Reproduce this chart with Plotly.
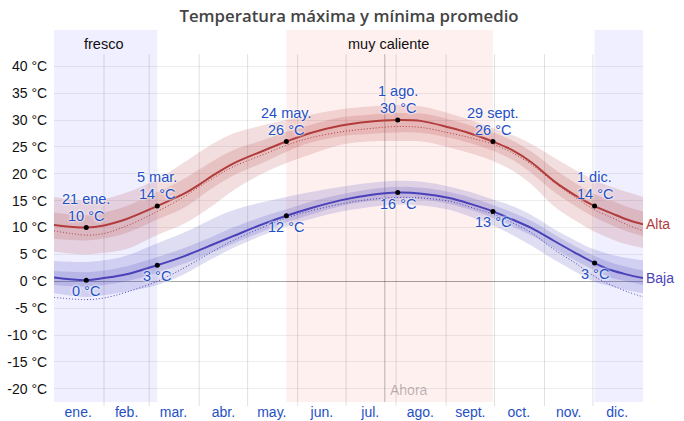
import plotly.graph_objects as go

# sample dates of the daily curves
dates = ['2023-01-01', '2023-01-21', '2023-02-01', '2023-02-15', '2023-03-06', '2023-03-22', '2023-04-01',
         '2023-04-09', '2023-04-22', '2023-05-10', '2023-05-25', '2023-06-09', '2023-06-28', '2023-07-15',
         '2023-08-02', '2023-08-17', '2023-09-03', '2023-09-16', '2023-09-30', '2023-10-12', '2023-10-24',
         '2023-11-07', '2023-11-20', '2023-12-02', '2023-12-13', '2023-12-23', '2024-01-01']

alta_mean = [10.5, 10.0, 10.4, 11.6, 14.0, 16.2, 18.0, 19.6, 21.9, 24.2, 26.0, 27.6, 29.0, 29.7,
             30.0, 29.8, 28.6, 27.5, 26.0, 24.4, 22.1, 18.6, 16.0, 14.0, 12.6, 11.4, 10.6]
alta_norm = [9.4, 8.6, 8.9, 10.3, 13.0, 15.6, 17.6, 19.1, 21.3, 23.5, 25.3, 26.7, 27.8, 28.4,
             28.8, 28.6, 27.6, 26.7, 25.5, 23.9, 21.7, 18.4, 15.6, 13.3, 11.8, 10.4, 9.4]
alta_p90 = [15.7, 15.0, 15.3, 16.5, 19.0, 22.0, 24.0, 25.5, 27.5, 29.0, 30.0, 31.0, 32.0, 32.5,
            32.8, 32.5, 31.2, 30.0, 28.5, 27.2, 25.5, 23.0, 20.7, 18.8, 17.5, 16.5, 15.7]
alta_p75 = [12.8, 12.3, 12.8, 14.0, 16.6, 19.0, 20.8, 22.3, 24.4, 26.2, 27.8, 29.1, 30.5, 31.0,
            31.3, 31.2, 30.1, 29.0, 27.7, 26.2, 24.1, 20.9, 18.3, 16.2, 15.0, 13.8, 13.0]
alta_p25 = [7.9, 7.6, 8.0, 9.0, 11.5, 13.6, 15.6, 17.3, 19.7, 22.0, 24.1, 25.8, 27.0, 27.4,
            27.7, 27.6, 26.7, 25.7, 24.3, 22.6, 20.1, 16.6, 14.0, 11.9, 10.4, 9.2, 8.4]
alta_p10 = [5.5, 5.0, 5.3, 6.0, 8.6, 10.6, 12.4, 14.0, 16.9, 20.0, 22.0, 23.6, 25.4, 26.0,
            26.1, 26.0, 24.9, 23.8, 22.4, 20.6, 18.0, 13.9, 11.3, 9.2, 7.8, 6.8, 6.2]

baja_mean = [0.7, 0.2, 0.6, 1.3, 3.0, 4.6, 5.8, 6.8, 8.4, 10.6, 12.2, 13.6, 15.1, 16.0,
             16.5, 16.3, 15.5, 14.4, 13.0, 11.5, 9.9, 7.5, 5.3, 3.4, 2.0, 1.2, 0.6]
baja_norm = [-3.0, -3.4, -3.1, -2.0, 0.0, 2.4, 4.1, 5.5, 7.6, 10.0, 11.8, 13.1, 14.4, 15.2,
             15.6, 15.5, 14.9, 13.8, 12.5, 10.9, 9.0, 5.9, 3.4, 0.9, -0.8, -2.0, -2.9]
baja_p90 = [3.8, 3.6, 3.9, 4.8, 7.1, 9.0, 10.4, 11.6, 13.2, 14.7, 15.7, 16.6, 17.6, 18.3,
            18.7, 18.5, 17.6, 16.6, 15.2, 14.0, 12.3, 9.7, 7.6, 5.9, 4.9, 4.3, 3.9]
baja_p75 = [1.9, 1.7, 2.0, 2.8, 4.5, 6.1, 7.3, 8.3, 10.0, 12.0, 13.4, 14.8, 16.2, 17.1,
            17.6, 17.4, 16.6, 15.6, 14.2, 12.8, 11.2, 8.7, 6.5, 4.7, 3.4, 2.6, 2.0]
baja_p25 = [-0.7, -1.0, -0.7, 0.0, 1.6, 3.2, 4.4, 5.4, 7.0, 9.2, 11.0, 12.4, 14.0, 14.9,
            15.4, 15.2, 14.4, 13.3, 11.8, 10.2, 8.5, 6.1, 3.9, 2.0, 0.6, -0.1, -0.7]
baja_p10 = [-2.2, -2.9, -2.6, -1.9, -0.7, 1.2, 2.9, 4.2, 6.2, 8.5, 10.2, 11.6, 13.0, 13.8,
            14.3, 14.1, 13.3, 12.0, 10.4, 8.6, 6.6, 4.0, 1.8, -0.1, -1.0, -1.7, -2.2]

# labelled points
alta_dates = ['2023-01-21', '2023-03-06', '2023-05-25', '2023-08-02', '2023-09-30', '2023-12-02']
alta_names = ['21 ene.', '5 mar.', '24 may.', '1 ago.', '29 sept.', '1 dic.']
alta_vals = [10.0, 14.0, 26.0, 30.0, 26.0, 14.0]
baja_dates = ['2023-01-21', '2023-03-06', '2023-05-25', '2023-08-02', '2023-09-30', '2023-12-02']
baja_vals = [0.2, 3.0, 12.2, 16.5, 13.0, 3.4]
baja_text = ['0 °C', '3 °C', '12 °C', '16 °C', '13 °C', '3 °C']

month_starts = ['2023-02-01', '2023-03-01', '2023-04-01', '2023-05-01', '2023-06-01', '2023-07-01',
                '2023-08-01', '2023-09-01', '2023-10-01', '2023-11-01', '2023-12-01']
month_mids = ['2023-01-16', '2023-02-15', '2023-03-16', '2023-04-16', '2023-05-16', '2023-06-16',
              '2023-07-16', '2023-08-16', '2023-09-16', '2023-10-16', '2023-11-16', '2023-12-16']
month_names = ['ene.', 'feb.', 'mar.', 'abr.', 'may.', 'jun.', 'jul.', 'ago.', 'sept.', 'oct.', 'nov.', 'dic.']
y_ticks = [-20, -15, -10, -5, 0, 5, 10, 15, 20, 25, 30, 35, 40]
y_labels = [f'{v} °C' for v in y_ticks]

now_date = '2023-07-25'
seasons = [('2023-01-01', '2023-03-06', '#efefff', 'fresco'),
           ('2023-05-25', '2023-09-30', '#fff0f0', 'muy caliente'),
           ('2023-12-02', '2024-01-01', '#efefff', '')]

RED = '#b23c3c'
BLUE = '#4a40b8'
LABEL = '#1f50c4'
FONT = 'Liberation Sans'

fig = go.Figure()


def add_band(upper, lower, fill):
    fig.add_trace(go.Scatter(x=dates, y=upper, mode='lines', line=dict(width=0, shape='spline'),
                             hoverinfo='skip', showlegend=False))
    fig.add_trace(go.Scatter(x=dates, y=lower, mode='lines', line=dict(width=0, shape='spline'),
                             fill='tonexty', fillcolor=fill, hoverinfo='skip', showlegend=False))


add_band(alta_p90, alta_p10, 'rgba(178,60,60,0.17)')
add_band(alta_p75, alta_p25, 'rgba(178,60,60,0.17)')
add_band(baja_p90, baja_p10, 'rgba(74,64,184,0.18)')
add_band(baja_p75, baja_p25, 'rgba(74,64,184,0.18)')

fig.add_trace(go.Scatter(x=dates, y=alta_norm, mode='lines', showlegend=False,
                         line=dict(color=RED, width=1, dash='1px,2px', shape='spline')))
fig.add_trace(go.Scatter(x=dates, y=baja_norm, mode='lines', showlegend=False,
                         line=dict(color=BLUE, width=1, dash='1px,2px', shape='spline')))
fig.add_trace(go.Scatter(x=dates, y=alta_mean, mode='lines', showlegend=False,
                         line=dict(color=RED, width=2, shape='spline')))
fig.add_trace(go.Scatter(x=dates, y=baja_mean, mode='lines', showlegend=False,
                         line=dict(color=BLUE, width=2, shape='spline')))
fig.add_trace(go.Scatter(x=alta_dates + baja_dates, y=alta_vals + baja_vals, mode='markers', showlegend=False,
                         marker=dict(color='black', size=5)))

# season rectangles and their names
for start, end, colour, name in seasons:
    fig.add_shape(type='rect', xref='x', yref='paper', x0=start, x1=end, y0=0, y1=1,
                  fillcolor=colour, line_width=0, layer='below')
    if name:
        mid = {'fresco': '2023-02-01', 'muy caliente': '2023-07-27'}[name]
        fig.add_annotation(x=mid, y=44.2, text=name, showarrow=False,
                           font=dict(family=FONT, size=14.5, color='#111111'))

# month separators reach a little below the plot
for start in month_starts:
    fig.add_shape(type='line', xref='x', yref='paper', x0=start, x1=start, y0=-0.011, y1=0.935,
                  line=dict(color='rgba(0,0,0,0.12)', width=1), layer='between')

fig.add_shape(type='line', xref='x', yref='paper', x0=now_date, x1=now_date, y0=0, y1=0.935,
              line=dict(color='rgba(0,0,0,0.28)', width=1), layer='between')
fig.add_annotation(x='2023-08-09', y=-20.2, text='Ahora', showarrow=False,
                   font=dict(family=FONT, size=14, color='rgba(0,0,0,0.28)'))

halo = '0 0 3px white, 0 0 3px white'
for d, name, val in zip(alta_dates, alta_names, alta_vals):
    fig.add_annotation(x=d, y=val, text=f'{val:.0f} °C', showarrow=False, yshift=12,
                       font=dict(family=FONT, size=14.5, color=LABEL, shadow=halo))
    fig.add_annotation(x=d, y=val, text=name, showarrow=False, yshift=29,
                       font=dict(family=FONT, size=14.5, color=LABEL, shadow=halo))
for d, val, txt in zip(baja_dates, baja_vals, baja_text):
    fig.add_annotation(x=d, y=val, text=txt, showarrow=False, yshift=-11,
                       font=dict(family=FONT, size=14.5, color=LABEL, shadow=halo))

fig.add_annotation(x='2024-01-01', y=alta_mean[-1], text='Alta', showarrow=False, xanchor='left', xshift=1,
                   font=dict(family=FONT, size=14, color=RED))
fig.add_annotation(x='2024-01-01', y=baja_mean[-1], text='Baja', showarrow=False, xanchor='left', xshift=1,
                   font=dict(family=FONT, size=14, color=BLUE))

fig.update_layout(
    width=684, height=421,
    margin=dict(l=54, r=41, t=30, b=19),
    paper_bgcolor='white', plot_bgcolor='white',
    showlegend=False,
    title=dict(text='Temperatura máxima y mínima promedio', x=349 / 684, xanchor='center', y=0.962, yanchor='middle',
               font=dict(family='Open Sans', size=16.8, color='#444444', weight=600)),
    xaxis=dict(type='date', range=['2023-01-01', '2024-01-01'], tickmode='array', tickvals=month_mids,
               ticktext=month_names, showgrid=False, zeroline=False, ticks='', automargin=False,
               tickfont=dict(family=FONT, size=14, color=LABEL)),
    yaxis=dict(range=[-22.45, 46.75], tickmode='array', tickvals=y_ticks, ticktext=y_labels, automargin=False,
               showgrid=True, gridcolor='rgba(0,0,0,0.07)', gridwidth=1,
               zeroline=True, zerolinecolor='rgba(0,0,0,0.35)', zerolinewidth=1,
               ticks='outside', ticklen=3, tickcolor='rgba(0,0,0,0)',
               tickfont=dict(family=FONT, size=14, color='#111111')),
)

fig.write_html("out.html", config=dict(displayModeBar=False), post_script="document.body.style.margin='0';")
